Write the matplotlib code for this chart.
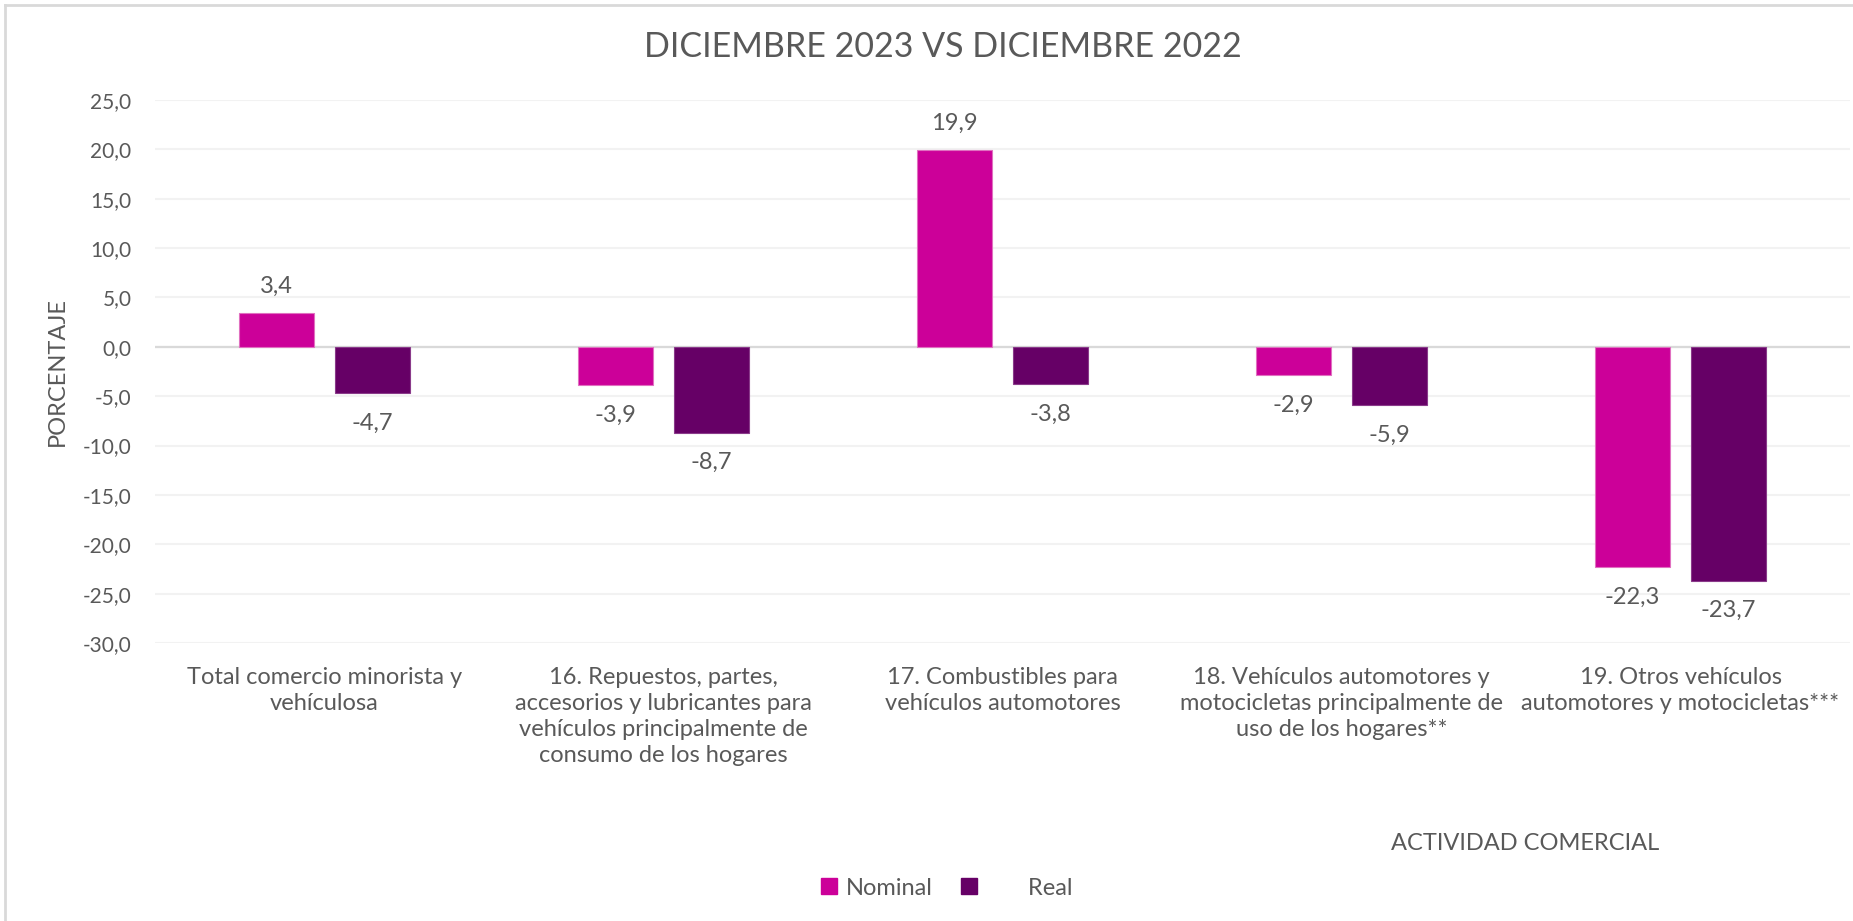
import matplotlib
matplotlib.use("Agg")
import matplotlib.pyplot as plt  # noqa: E402
from matplotlib.patches import Patch  # noqa: E402
from matplotlib.lines import Line2D  # noqa: E402
import matplotlib.transforms as mtransforms  # noqa: E402

# ---------------------------------------------------------------------------
# Data
# ---------------------------------------------------------------------------
categories = [
    "Total comercio minorista y\nvehículosa",
    "16. Repuestos, partes,\naccesorios y lubricantes para\nvehículos principalmente de\nconsumo de los hogares",
    "17. Combustibles para\nvehículos automotores",
    "18. Vehículos automotores y\nmotocicletas principalmente de\nuso de los hogares**",
    "19. Otros vehículos\nautomotores y motocicletas***",
]
nominal = [3.4, -3.9, 19.9, -2.9, -22.3]
real = [-4.7, -8.7, -3.8, -5.9, -23.7]
yticks = [25, 20, 15, 10, 5, 0, -5, -10, -15, -20, -25, -30]

# ---------------------------------------------------------------------------
# Style
# ---------------------------------------------------------------------------
_MAGENTA = "#cc0099"
_PURPLE = "#660066"
_TEXT = "#595959"
_GRID = "#f2f2f2"
_ZERO = "#d9d9d9"
_FONT = ["Lato", "DejaVu Sans"]

plt.rcParams["font.family"] = _FONT

W, H = 1853, 921
fig = plt.figure(figsize=(W / 100, H / 100), dpi=100)
fig.patch.set_facecolor("white")

ax = fig.add_axes([155 / W, 1 - 643 / H, (1850 - 155) / W, (643 - 100) / H])

x = list(range(len(categories)))
bw = 0.224
off = 0.1416

b1 = ax.bar([i - off for i in x], nominal, bw, color=_MAGENTA,
            edgecolor="#e070c0", linewidth=0.8, zorder=3)
b2 = ax.bar([i + off for i in x], real, bw, color=_PURPLE,
            edgecolor="#8a3a8a", linewidth=0.8, zorder=3)

ax.set_xlim(-0.5, len(categories) - 0.5)
ax.set_ylim(-30, 25)
ax.set_yticks(yticks)
ax.set_yticklabels([f"{v:.1f}".replace(".", ",") for v in yticks],
                   fontsize=15, color=_TEXT)
ax.tick_params(axis="y", length=0, pad=17)
ax.set_xticks([])
for s in ax.spines.values():
    s.set_visible(False)
ax.yaxis.grid(True, color=_GRID, linewidth=1.5, zorder=0)
ax.set_axisbelow(True)
ax.axhline(0, color=_ZERO, linewidth=1.6, zorder=2)

txt = dict(fontweight="normal", color=_TEXT)

# data labels
for bars, vals in ((b1, nominal), (b2, real)):
    for bar, v in zip(bars, vals):
        cx = bar.get_x() + bar.get_width() / 2
        dy = 27 if v >= 0 else -30
        ax.annotate(f"{v:.1f}".replace(".", ","), (cx, v),
                    xytext=(0, dy), textcoords="offset pixels",
                    ha="center", va="center", fontsize=17, **txt)

# category labels under the axis
trans = mtransforms.blended_transform_factory(ax.transData, fig.transFigure)
for i, lbl in enumerate(categories):
    ax.text(i, 1 - 667 / H, lbl, transform=trans, ha="center", va="top",
            fontsize=17, linespacing=1.3, multialignment="center", **txt)

# titles
fig.text(943 / W, 1 - 47 / H, "DICIEMBRE 2023 VS DICIEMBRE 2022",
         ha="center", va="center", fontsize=24.5, **txt)
fig.text(57 / W, 1 - 372 / H, "PORCENTAJE", rotation=90,
         ha="center", va="center", fontsize=17, **txt)
fig.text(1525 / W, 1 - 843 / H, "ACTIVIDAD COMERCIAL",
         ha="center", va="center", fontsize=17, **txt)

# legend
handles = [Patch(facecolor=_MAGENTA, edgecolor=_MAGENTA),
           Patch(facecolor=_PURPLE, edgecolor=_PURPLE)]
leg = fig.legend(handles, ["Nominal", "       Real"], loc="center",
                 bbox_to_anchor=(947 / W, 1 - 888 / H), ncol=2, frameon=False,
                 handlelength=0.65, handleheight=0.65, handletextpad=0.4,
                 columnspacing=1.2, prop={"size": 17})
for t in leg.get_texts():
    t.set_color(_TEXT)

# outer chart border (top and left visible)
fig.add_artist(Line2D([5 / W, 1], [1 - 5 / H, 1 - 5 / H], color=_ZERO,
                      linewidth=2, transform=fig.transFigure))
fig.add_artist(Line2D([5 / W, 5 / W], [0, 1 - 5 / H], color=_ZERO,
                      linewidth=2, transform=fig.transFigure))

fig.savefig("out.png", dpi=100)
plt.close(fig)
